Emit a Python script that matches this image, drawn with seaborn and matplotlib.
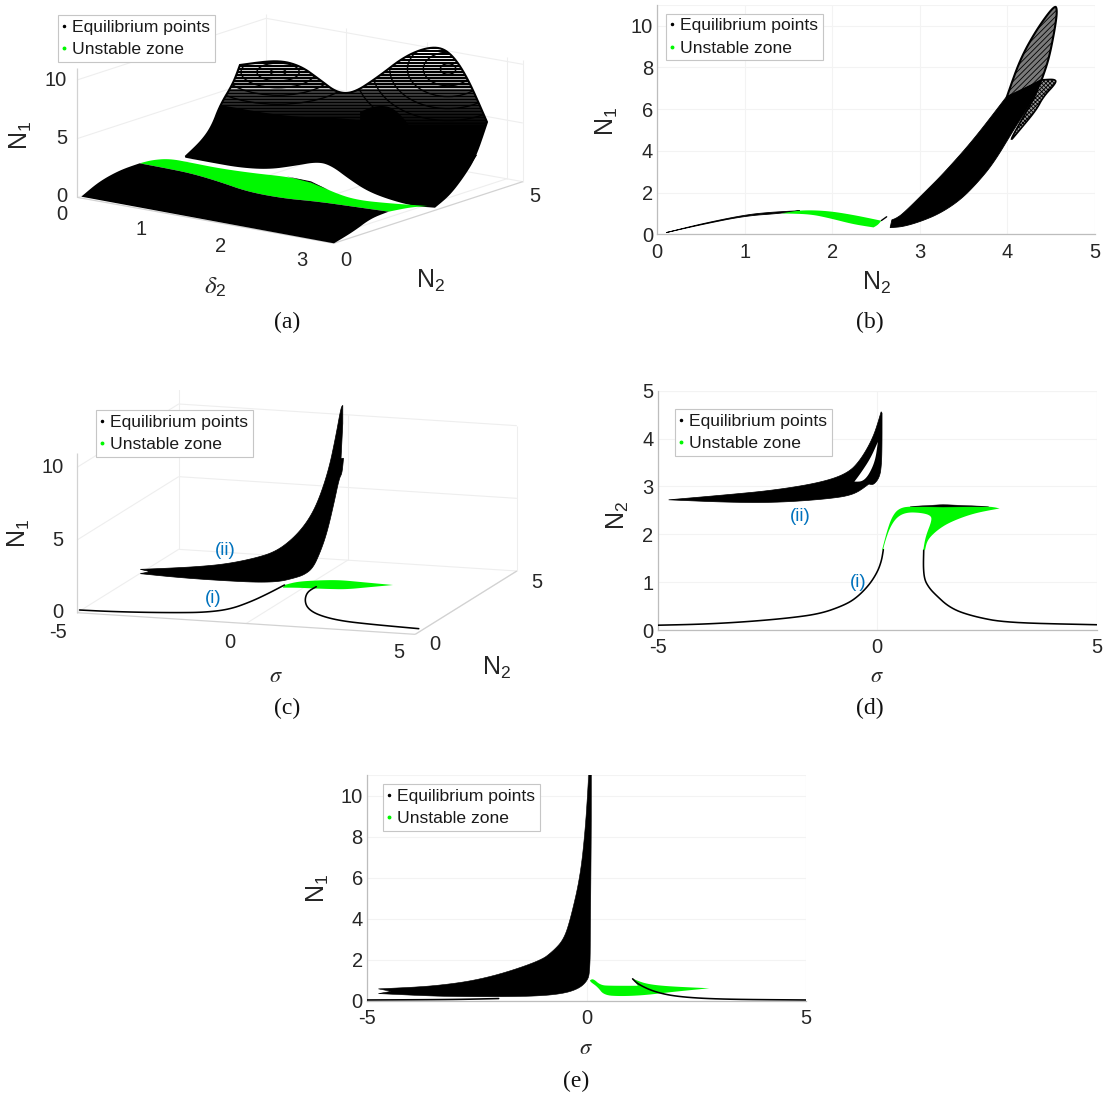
import numpy as np
import matplotlib
matplotlib.use("Agg")
import matplotlib.pyplot as plt
from matplotlib.patches import Polygon, Ellipse
from matplotlib.lines import Line2D
import seaborn as sns

sns.set_theme(style="white")
plt.rcParams['font.family'] = ['Liberation Sans', 'DejaVu Sans']
plt.rcParams['mathtext.fontset'] = 'stix'
plt.rcParams['hatch.linewidth'] = 0.6
plt.rcParams['axes.unicode_minus'] = False

W, H = 1104, 1097
BLACK, GREEN, BLUE, TXT, AXC, AX3, GRC = '#000000', '#00f800', '#0072BD', '#262626', '#bdbdbd', '#d2d2d2', '#f3f3f3'
TICK_FS, LAB_FS, CAP_FS, LEG_FS = 14.5, 18, 17, 12.6

# ---------- panel (b): N2 vs N1 ----------
b_arc_n2 = [0.10, 0.5, 1.0, 1.3, 1.63, 1.4, 1.0, 0.5]
b_arc_n1 = [0.08, 0.5, 0.93, 1.06, 1.13, 1.0, 0.88, 0.46]
b_green_n2 = [1.42, 1.63, 1.935, 2.24, 2.56, 2.52, 2.47, 2.24, 1.97, 1.74]
b_green_n1 = [1.0, 1.16, 1.13, 0.93, 0.65, 0.45, 0.33, 0.48, 0.77, 0.97]
b_dash_n2 = [2.56, 2.62]
b_dash_n1 = [0.66, 0.84]
b_body_n2 = [2.66, 2.68, 2.73, 2.81, 3.08, 3.27, 3.61, 3.99, 4.39, 4.29, 4.18, 4.07, 3.84, 3.65, 3.46, 3.23, 3.0, 2.8]
b_body_n1 = [0.32, 0.69, 0.77, 1.0, 2.12, 2.92, 4.52, 6.60, 7.40, 6.43, 5.72, 5.0, 3.40, 2.44, 1.64, 1.0, 0.6, 0.36]
b_loop1_n2 = [3.99, 4.14, 4.33, 4.54, 4.57, 4.54, 4.47, 4.39, 4.2]
b_loop1_n1 = [6.55, 8.35, 9.8, 11.0, 10.75, 9.8, 8.35, 7.4, 6.95]
b_loop2_n2 = [4.30, 4.39, 4.54, 4.56, 4.41, 4.33, 4.14, 4.0]
b_loop2_n1 = [6.5, 7.4, 7.44, 7.27, 6.6, 5.96, 5.0, 4.3]

# ---------- panel (d): sigma vs N2 ----------
d_ii_s = [-4.75, -3.49, -2.35, -1.29, -0.68, -0.38, -0.08, 0.09, 0.11, 0.11, 0.10, 0.06, -0.08, -0.19, -0.53, -1.21, -2.35, -3.49]
d_ii_n = [2.72, 2.82, 2.92, 3.08, 3.27, 3.55, 4.04, 4.56, 4.53, 3.9, 3.48, 3.2, 3.03, 3.05, 2.82, 2.73, 2.66, 2.67]
d_hole_s = [-0.52, -0.38, -0.15, 0.015, -0.04, -0.19, -0.34]
d_hole_n = [3.1, 3.27, 3.59, 3.93, 3.55, 3.24, 3.1]
d_il_s = [-5, -4, -3, -2, -1.3, -0.8, -0.5, -0.2, 0, 0.1, 0.14]
d_il_n = [0.10, 0.12, 0.17, 0.25, 0.34, 0.5, 0.65, 0.92, 1.2, 1.45, 1.68]
d_ir_s = [1.06, 1.05, 1.08, 1.17, 1.29, 1.67, 2.2, 2.96, 5]
d_ir_n = [1.67, 1.3, 1.05, 0.9, 0.77, 0.45, 0.28, 0.15, 0.11]
d_green_s = [0.11, 0.23, 0.34, 0.49, 0.76, 2.54, 2.79, 2.2, 1.67, 1.37, 1.14, 1.09, 1.05, 1.1, 1.25, 1.21, 0.99, 0.68, 0.46, 0.3, 0.19, 0.13]
d_green_n = [1.67, 2.09, 2.37, 2.54, 2.59, 2.59, 2.54, 2.44, 2.26, 2.09, 1.88, 1.67, 1.67, 1.95, 2.3, 2.4, 2.45, 2.46, 2.37, 2.16, 1.88, 1.67]
d_top_s = [0.75, 1.5, 2.54, 1.5]
d_top_n = [2.58, 2.62, 2.58, 2.57]

# ---------- panel (e): sigma vs N1 ----------
e_black_s = [-4.74, -3.45, -2.29, -1.06, -0.75, -0.52, -0.37, -0.14, -0.02, 0.05, 0.11, 0.11, 0.09, 0.08, 0, -0.18, -0.52, -1.14, -2.29, -3.45, -4.74, -4.45]
e_black_n = [0.59, 0.72, 1.09, 1.94, 2.45, 3.0, 3.95, 6.08, 8.53, 11, 11, 8.53, 3.6, 1.34, 0.93, 0.6, 0.36, 0.23, 0.2, 0.23, 0.36, 0.47]
e_green_s = [0.08, 0.15, 0.32, 0.55, 1.17, 1.05, 1.32, 1.78, 2.8, 1.94, 1.32, 0.78, 0.4, 0.25, 0.09]
e_green_n = [1.01, 1.09, 0.77, 0.74, 0.74, 1.09, 0.85, 0.72, 0.62, 0.44, 0.28, 0.23, 0.28, 0.69, 0.93]
e_il_s = [-5, -3, -2]
e_il_n = [0.05, 0.07, 0.12]
e_ir_s = [1.05, 1.17, 1.55, 2.09, 3.09, 5]
e_ir_n = [1.08, 0.82, 0.44, 0.2, 0.08, 0.05]

# ---------- panel (a): projected view of (delta2, N2, N1), picture coordinates ----------
a_low_x = [230, 280, 340, 395, 470, 540, 620, 700, 800, 900, 1000, 1100, 1050, 1000, 945]
a_low_y = [590, 545, 510, 490, 505, 520, 545, 575, 595, 605, 620, 635, 655, 695, 730]
a_grn_x = [395, 430, 480, 540, 620, 720, 810, 880, 950, 1010, 1100, 1210, 1160, 1100, 1000, 900, 800, 700, 620, 540, 470]
a_grn_y = [490, 480, 476, 488, 505, 520, 530, 545, 580, 600, 610, 618, 622, 635, 620, 605, 595, 575, 545, 520, 505]
a_sil_x = [525, 600, 680, 760, 830, 900, 940, 990, 1040, 1100, 1170, 1230, 1270, 1310, 1345, 1378, 1322, 1273, 1225, 1150, 1066, 999, 953, 906, 850, 784, 679, 660, 623, 600, 570]
a_sil_y = [470, 485, 500, 505, 495, 482, 495, 535, 570, 595, 615, 620, 585, 530, 470, 366, 230, 155, 138, 165, 234, 280, 278, 240, 197, 180, 195, 250, 315, 380, 425]
a_solid_x = [525, 600, 680, 760, 830, 900, 940, 990, 1040, 1100, 1170, 1230, 1270, 1310, 1350, 1282, 1140, 999, 812, 623, 600, 570]
a_solid_y = [470, 485, 500, 505, 495, 482, 495, 535, 570, 595, 615, 620, 585, 530, 465, 441, 390, 354, 351, 315, 380, 425]
a_dome_x = [1019, 1056, 1104, 1140, 1160, 1160, 1019]
a_dome_y = [336, 318, 318, 351, 381, 410, 400]
a_sliver_x = [810, 880, 930, 880]
a_sliver_y = [529, 544, 570, 548]
a_delta_ticks = [0, 1, 2, 3]
a_n2_ticks = [0, 5]
a_n1_ticks = [0, 5, 10]

# ---------- panel (c): projected view of (sigma, N2, N1), picture coordinates ----------
c_ii_x = [397, 470, 560, 640, 720, 780, 830, 870, 900, 930, 950, 965, 970, 970, 965, 972, 968, 960, 945, 925, 905, 885, 860, 830, 790, 730, 650, 560, 480, 397, 425]
c_ii_y = [538, 535, 530, 522, 505, 485, 445, 395, 335, 240, 140, 52, 46, 100, 205, 205, 250, 265, 340, 430, 490, 535, 555, 565, 575, 577, 573, 567, 560, 551, 545]
c_il_x = [225, 300, 400, 500, 580, 650, 710, 760, 805]
c_il_y = [660, 664, 667, 668, 667, 658, 635, 610, 585]
c_grn_x = [805, 840, 900, 960, 1020, 1112, 1040, 980, 930, 880, 840, 800]
c_grn_y = [585, 575, 571, 570, 576, 585, 592, 598, 597, 595, 593, 593]
c_ir_x = [895, 870, 862, 870, 900, 960, 1050, 1185]
c_ir_y = [590, 605, 630, 655, 675, 692, 703, 716]
c_sigma_ticks = [-5, 0, 5]
c_n2_ticks = [0, 5]
c_n1_ticks = [0, 5, 10]

fig = plt.figure(figsize=(W / 100, H / 100), dpi=100, facecolor='white')


def fx(p):
    return p / W


def fy(p):
    return 1 - p / H


def axes_px(l, t, r, b):
    return fig.add_axes([l / W, 1 - b / H, (r - l) / W, (b - t) / H])


def put(px, py, s, size=TICK_FS, color=TXT, rot=0, **kw):
    fig.text(fx(px), fy(py), s, fontsize=size, color=color, rotation=rot,
             ha='center', va='center', **kw)


def rounded(x, y, corners=(), closed=True, passes=3):
    """Round the drawn outline between the read-off points; listed points stay sharp."""
    pts = [np.array(p, float) for p in zip(x, y)]
    sharp = [i in corners for i in range(len(pts))]
    if not closed:
        sharp[0] = sharp[-1] = True
    for _ in range(passes):
        out, keep = [], []
        n = len(pts)
        for i in range(n if closed else n - 1):
            p, q = pts[i], pts[(i + 1) % n]
            sp, sq = sharp[i], sharp[(i + 1) % n]
            if sp:
                out.append(p); keep.append(True)
            else:
                out.append(.75 * p + .25 * q); keep.append(False)
            if not sq:
                out.append(.25 * p + .75 * q); keep.append(False)
        if not closed:
            out.append(pts[-1]); keep.append(True)
        pts, sharp = out, keep
    a = np.array(pts)
    return a[:, 0], a[:, 1]


def blob(ax, x, y, corners=(), **kw):
    xs, ys = rounded(x, y, corners)
    return ax.fill(xs, ys, **kw)


def legend(ax, left, top):
    handles = [Line2D([], [], ls='', marker='o', ms=1.5, color=BLACK, label='Equilibrium points'),
               Line2D([], [], ls='', marker='o', ms=1.8, color=GREEN, label='Unstable zone')]
    leg = ax.legend(handles=handles, loc='upper left', bbox_to_anchor=(fx(left), fy(top)),
                    bbox_transform=fig.transFigure, fontsize=LEG_FS, frameon=True,
                    fancybox=False, framealpha=1, edgecolor='#c6c6c6', borderpad=0.27,
                    labelspacing=0.4, handlelength=0.1, handletextpad=0.42,
                    borderaxespad=0, labelcolor='#1a1a1a')
    leg.get_frame().set_linewidth(0.8)
    leg.set_zorder(20)


def flat(ax, xlim, ylim, xt, yt):
    ax.set_xlim(*xlim)
    ax.set_ylim(*ylim)
    ax.set_xticks(xt)
    ax.set_yticks(yt)
    ax.grid(True, color=GRC, lw=0.8)
    ax.set_axisbelow(True)
    sns.despine(ax=ax)
    for s in ('left', 'bottom'):
        ax.spines[s].set_color(AXC)
        ax.spines[s].set_linewidth(0.9)
    ax.tick_params(axis='x', labelsize=TICK_FS, labelcolor=TXT, length=0, pad=6)
    ax.tick_params(axis='y', labelsize=TICK_FS, labelcolor=TXT, length=0, pad=3)
    ax.axvline(xlim[1], color=GRC, lw=0.8, zorder=0)
    ax.axhline(ylim[1], color=GRC, lw=0.8, zorder=0)


def line(ax, x, y, lw=1.15, color=BLACK, smooth=True, **kw):
    if smooth:
        x, y = rounded(x, y, closed=False)
    sns.lineplot(x=x, y=y, ax=ax, color=color, lw=lw, sort=False, estimator=None, legend=False, **kw)
    ax.set_xlabel('')
    ax.set_ylabel('')


# ========== (b) ==========
ax = axes_px(657.3, 4.8, 1095, 234.3)
flat(ax, (0, 5), (0, 11), [0, 1, 2, 3, 4, 5], [0, 2, 4, 6, 8, 10])
blob(ax, b_arc_n2, b_arc_n1, (0, 4), color=BLACK, lw=0.6, zorder=3)
blob(ax, b_green_n2, b_green_n1, (0, 4, 6), color=GREEN, lw=0, zorder=3)
line(ax, b_dash_n2, b_dash_n1, lw=1.0, smooth=False, zorder=3)
xs, ys = rounded(b_loop1_n2, b_loop1_n1, (0, 7))
ax.fill(xs, ys, facecolor='#7a7a7a', edgecolor=BLACK, hatch='//////', lw=1.5, zorder=3)
xs, ys = rounded(b_loop2_n2, b_loop2_n1, (0, 1))
ax.fill(xs, ys, facecolor='#999999', edgecolor=BLACK, hatch='xxxxxxxx', lw=1.2, zorder=3)
blob(ax, b_body_n2, b_body_n1, (0, 1, 7, 8), color=BLACK, lw=0.6, zorder=4)
legend(ax, 666, 13.5)

# ========== (d) ==========
ax = axes_px(657.7, 390.7, 1096.7, 630)
flat(ax, (-5, 5), (0, 5), [-5, 0, 5], [0, 1, 2, 3, 4, 5])
blob(ax, d_ii_s, d_ii_n, (0, 7, 8, 13), color=BLACK, lw=0.5, zorder=3)
blob(ax, d_hole_s, d_hole_n, (0, 3), color='white', lw=0, zorder=4)
line(ax, d_il_s, d_il_n, zorder=3)
line(ax, d_ir_s, d_ir_n, zorder=3)
blob(ax, d_green_s, d_green_n, (0, 6, 11, 12, 21), color=GREEN, lw=0, zorder=3)
ax.fill(d_top_s, d_top_n, color=BLACK, lw=0.3, zorder=4)
ax.text(-1.76, 2.37, '(ii)', color=BLUE, fontsize=13.5, ha='center', va='center')
ax.text(-0.44, 1.0, '(i)', color=BLUE, fontsize=13.5, ha='center', va='center')
legend(ax, 675, 409)

# ========== (e) ==========
ax = axes_px(367, 775, 806, 1001)
flat(ax, (-5, 5), (0, 11), [-5, 0, 5], [0, 2, 4, 6, 8, 10])
line(ax, e_il_s, e_il_n, zorder=3)
blob(ax, e_green_s, e_green_n, (0, 4, 5, 8), color=GREEN, lw=0, zorder=3)
blob(ax, e_black_s, e_black_n, (0, 9, 10, 20, 21), color=BLACK, lw=0.4, zorder=4)
line(ax, e_ir_s, e_ir_n, zorder=5)
legend(ax, 383, 784)


# ========== (a) ==========
def view(l, t, r, b, vw, vh):
    a = axes_px(l, t, r, b)
    a.set_xlim(0, vw)
    a.set_ylim(vh, 0)
    a.axis('off')
    return a


ax = view(0, 0, 552, 340, 1562, 1020)


def pa(d, n, z):
    return 218 + 227 * d + 107 * n, 592 + 43.1 * d - 37 * n - 35.2 * z


def seg(ax, f, p, q, color='#eeeeee', lw=0.8, z=1):
    x0, y0 = f(*p)
    x1, y1 = f(*q)
    ax.plot([x0, x1], [y0, y1], color=color, lw=lw, zorder=z, solid_capstyle='butt')


for v in a_n1_ticks:
    seg(ax, pa, (0, 0, v), (0, 5, v))
    seg(ax, pa, (0, 5, v), (3.2, 5, v))
for v in a_delta_ticks[1:]:
    seg(ax, pa, (v, 0, 0), (v, 5, 0))
    seg(ax, pa, (v, 5, 0), (v, 5, 10.4))
seg(ax, pa, (0, 5, 0), (0, 5, 10.4))
seg(ax, pa, (3.2, 5, 0), (3.2, 5, 10.4))
seg(ax, pa, (0, 0, 0), (3.2, 0, 0), AX3, 0.9, 2)
seg(ax, pa, (3.2, 0, 0), (3.2, 5, 0), AX3, 0.9, 2)
seg(ax, pa, (0, 0, 0), (0, 0, 11), AX3, 0.9, 2)

sx, sy = rounded(a_sil_x, a_sil_y, (0, 11, 15, 26))
clip = Polygon(np.c_[sx, sy], closed=True, facecolor='white', edgecolor=BLACK, lw=1.5, zorder=3)
ax.add_patch(clip)
yy = np.arange(135, 480, 9)
lc = ax.hlines(yy, 600, 1400, colors=BLACK, linewidths=np.clip(1.35 + (yy - 135) / 300, 1.35, 2.16), zorder=4)
lc.set_clip_path(clip)
for cx, cy, ratio, rws in [(787, 216, 0.45, (22, 60, 105, 155, 215)),
                           (1268, 207, 0.72, (22, 70, 115, 165, 215, 265))]:
    for rw in rws:
        e = Ellipse((cx, cy), rw * 2, rw * 2 * ratio, fill=False, ec=BLACK, lw=1.0, zorder=4)
        ax.add_patch(e)
        e.set_clip_path(clip)
blob(ax, a_solid_x, a_solid_y, (0, 11, 14, 19), color=BLACK, lw=0, zorder=5)
blob(ax, a_dome_x, a_dome_y, (0, 4), color=BLACK, lw=0, zorder=5)
blob(ax, a_grn_x, a_grn_y, (0, 11, 13), color=GREEN, lw=0, zorder=6)
blob(ax, a_low_x, a_low_y, (0, 3, 11, 14), color=BLACK, lw=0, zorder=7)
ax.fill(a_sliver_x, a_sliver_y, color=BLACK, lw=0, zorder=7)
legend(ax, 58, 15)

for s, x, y in zip(['0', '1', '2', '3'], [62, 141, 221, 302], [215, 230, 246, 260]):
    put(x, y, s)
put(346, 261, '0')
put(535, 197, '5')
for s, x, y in zip(['0', '5', '10'], [62, 62, 56], [197, 139, 80]):
    put(x, y, s)
put(215, 287, r'$\delta_{\mathregular{2}}$', LAB_FS)
put(431, 281, r'$\mathregular{N_2}$', LAB_FS)
put(21, 135, r'$\mathregular{N_1}$', LAB_FS, rot=90)
put(287, 322, '(a)', CAP_FS, '#111111', family='Liberation Serif')

# ========== (c) ==========
ax = view(0, 390, 552, 720, 1562, 990)


def pc(s, n, z):
    return 218 + 95.7 * (s + 5) + 57.5 * n, 668 + 6.5 * (s + 5) - 38 * n - 43.6 * z


for v in c_n1_ticks:
    seg(ax, pc, (-5, 0, v), (-5, 5, v))
    seg(ax, pc, (-5, 5, v), (5, 5, v))
for v in c_sigma_ticks[1:]:
    seg(ax, pc, (v, 0, 0), (v, 5, 0))
    seg(ax, pc, (v, 5, 0), (v, 5, 10))
seg(ax, pc, (-5, 5, 0), (-5, 5, 11))
seg(ax, pc, (-5, 0, 0), (5, 0, 0), AX3, 0.9, 2)
seg(ax, pc, (5, 0, 0), (5, 5, 0), AX3, 0.9, 2)
seg(ax, pc, (-5, 0, 0), (-5, 0, 11), AX3, 0.9, 2)
blob(ax, c_ii_x, c_ii_y, (0, 12, 13, 14, 15, 29, 30), color=BLACK, lw=0.5, zorder=4)
blob(ax, c_grn_x, c_grn_y, (0, 5, 11), color=GREEN, lw=0, zorder=4)
line(ax, c_il_x, c_il_y, zorder=5)
line(ax, c_ir_x, c_ir_y, zorder=5)
ax.set_xlim(0, 1562)
ax.set_ylim(990, 0)
ax.axis('off')
ax.text(637, 483, '(ii)', color=BLUE, fontsize=13.5, ha='center', va='center', zorder=6)
ax.text(604, 625, '(i)', color=BLUE, fontsize=13.5, ha='center', va='center', zorder=6)
legend(ax, 96, 410)

for s, x, y in zip(['-5', '0', '5'], [58, 230, 399], [633, 642, 652]):
    put(x, y, s)
put(435, 645, '0')
put(537, 583, '5')
for s, x, y in zip(['0', '5', '10'], [58, 58, 53], [613, 540, 468]):
    put(x, y, s)
put(276, 676, r'$\sigma$', LAB_FS - 2)
put(497, 668, r'$\mathregular{N_2}$', LAB_FS)
put(19, 533, r'$\mathregular{N_1}$', LAB_FS, rot=90)
put(287, 708, '(c)', CAP_FS, '#111111', family='Liberation Serif')

# ========== labels of flat panels ==========
put(877, 283, r'$\mathregular{N_2}$', LAB_FS)
put(607, 121, r'$\mathregular{N_1}$', LAB_FS, rot=90)
put(870, 322, '(b)', CAP_FS, '#111111', family='Liberation Serif')
put(877, 676, r'$\sigma$', LAB_FS - 2)
put(618, 515, r'$\mathregular{N_2}$', LAB_FS, rot=90)
put(870, 708, '(d)', CAP_FS, '#111111', family='Liberation Serif')
put(586, 1048, r'$\sigma$', LAB_FS - 2)
put(318, 888, r'$\mathregular{N_1}$', LAB_FS, rot=90)
put(576, 1081, '(e)', CAP_FS, '#111111', family='Liberation Serif')

fig.savefig('out.png', dpi=100, facecolor='white')
